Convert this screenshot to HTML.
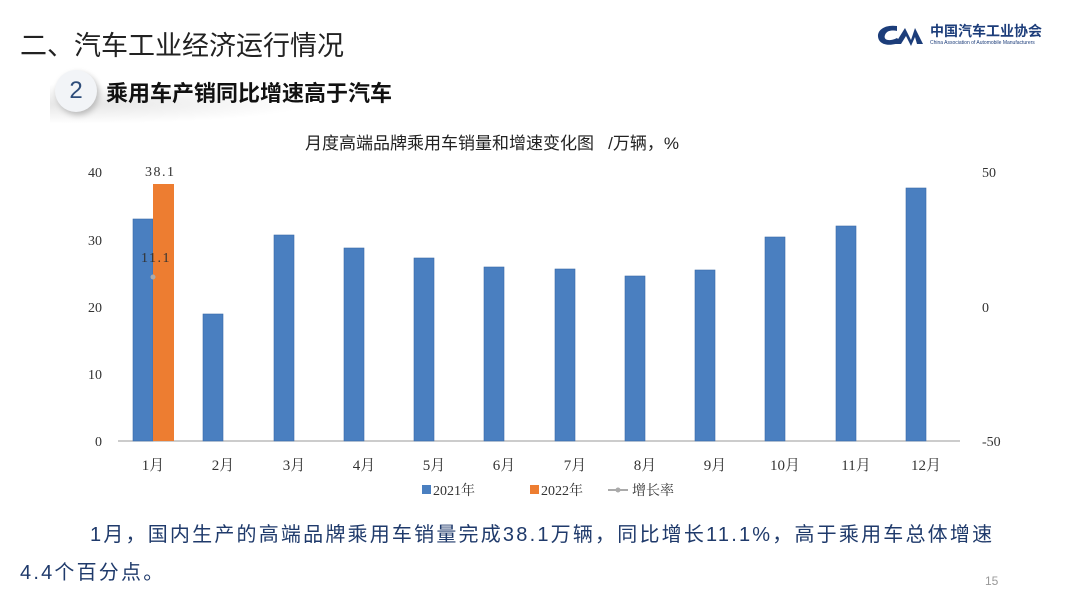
<!DOCTYPE html>
<html><head><meta charset="utf-8"><style>
body{margin:0;width:1080px;height:608px;background:#fff;position:relative;overflow:hidden;font-family:"Liberation Sans","Noto Sans CJK SC",sans-serif}
.a{position:absolute;white-space:nowrap}
</style></head><body>
<div class="a" style="left:20px;top:24px;font-size:27px;color:#222">二、汽车工业经济运行情况</div>
<div class="a" style="left:50px;top:84px;width:260px;height:40px;background:radial-gradient(ellipse at 10% 50%,#e6e6e6,rgba(255,255,255,0) 70%)"></div>
<div class="a" style="left:55px;top:70px;width:42px;height:42px;border-radius:50%;background:#f2f4f7;box-shadow:2px 3px 6px #bbb;text-align:center;line-height:42px;font-size:24px;color:#2e4d7a">2</div>
<div class="a" style="left:106px;top:76px;font-size:22px;font-weight:bold;color:#111">乘用车产销同比增速高于汽车</div>
<svg class="a" style="left:875px;top:22px" width="50" height="28"><path d="M22 4 C8 2 0 10 4 18 C8 25 20 23 26 20 L22 16 C14 20 8 18 10 13 C12 8 18 8 22 9 Z" fill="#1c3d7a"/><path d="M20 22 L30 6 L36 18 L40 6 L48 22 L42 22 L40 15 L36 24 L31 14 L26 22Z" fill="#1c3d7a"/></svg>
<div class="a" style="left:930px;top:21px;font-size:14px;font-weight:bold;color:#1c3d7a">中国汽车工业协会</div>
<div class="a" style="left:930px;top:40px;font-size:5px;color:#1c3d7a">China Association of Automobile Manufacturers</div>
<div class="a" style="left:305px;top:129px;font-size:17px;color:#222">月度高端品牌乘用车销量和增速变化图&nbsp;&nbsp;&nbsp;/万辆，%</div>
<svg class="a" style="left:0;top:0" width="1080" height="608" font-family="Liberation Serif,Noto Serif CJK SC,serif" font-size="14" fill="#333">
<g text-anchor="end"><text x="102" y="177">40</text><text x="102" y="245">30</text><text x="102" y="312">20</text><text x="102" y="379">10</text><text x="102" y="446">0</text></g>
<g><text x="982" y="177">50</text><text x="982" y="312">0</text><text x="982" y="446">-50</text></g>
<line x1="118" y1="441" x2="960" y2="441" stroke="#999"/>
<g fill="#4a7fc0" stroke="#3a6aa8" stroke-width="0.6">
<rect x="133" y="219" width="20" height="222"/>
<rect x="203" y="314" width="20" height="127"/>
<rect x="274" y="235" width="20" height="206"/>
<rect x="344" y="248" width="20" height="193"/>
<rect x="414" y="258" width="20" height="183"/>
<rect x="484" y="267" width="20" height="174"/>
<rect x="555" y="269" width="20" height="172"/>
<rect x="625" y="276" width="20" height="165"/>
<rect x="695" y="270" width="20" height="171"/>
<rect x="765" y="237" width="20" height="204"/>
<rect x="836" y="226" width="20" height="215"/>
<rect x="906" y="188" width="20" height="253"/>
</g>
<rect x="153" y="184" width="21" height="257" fill="#ed7d31"/>
<text x="145" y="176" font-size="14" letter-spacing="1.5">38.1</text>
<text x="141" y="262" font-size="14" letter-spacing="1.5">11.1</text>
<circle cx="153" cy="277" r="2.5" fill="#aaa"/>
<g text-anchor="middle" font-size="15">
<text x="153" y="470">1月</text><text x="223" y="470">2月</text><text x="294" y="470">3月</text><text x="364" y="470">4月</text><text x="434" y="470">5月</text><text x="504" y="470">6月</text><text x="575" y="470">7月</text><text x="645" y="470">8月</text><text x="715" y="470">9月</text><text x="785" y="470">10月</text><text x="856" y="470">11月</text><text x="926" y="470">12月</text>
</g>
<rect x="422" y="485" width="9" height="9" fill="#4a7fc0"/><text x="433" y="495">2021年</text>
<rect x="530" y="485" width="9" height="9" fill="#ed7d31"/><text x="541" y="495">2022年</text>
<line x1="608" y1="490" x2="628" y2="490" stroke="#aaa" stroke-width="2"/><circle cx="618" cy="490" r="2.5" fill="#aaa"/><text x="632" y="495">增长率</text>
</svg>
<div class="a" style="left:90px;top:518px;font-size:20px;color:#1f3a6b;letter-spacing:2.2px">1月，国内生产的高端品牌乘用车销量完成38.1万辆，同比增长11.1%，高于乘用车总体增速</div>
<div class="a" style="left:20px;top:556px;font-size:20px;color:#1f3a6b;letter-spacing:2.2px">4.4个百分点。</div>
<div class="a" style="left:985px;top:574px;font-size:12px;color:#999">15</div>
</body></html>
